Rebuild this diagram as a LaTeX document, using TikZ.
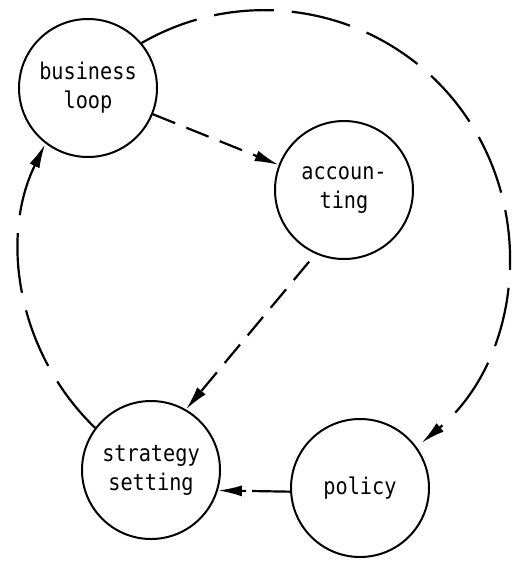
\documentclass[tikz,border=0pt]{standalone}
\usepackage{fontspec}
\newfontfamily\labelfont[FakeStretch=0.88]{DejaVu Sans Mono}
\usetikzlibrary{positioning,arrows.meta}
\tikzset{
  stage/.style={draw, circle, minimum size=69pt, inner sep=0pt, line width=1pt,
    align=center, font=\labelfont\fontsize{11.5pt}{14.5pt}\selectfont},
  ring/.style={line width=1.1pt, dash pattern=on 30pt off 9pt},
  link/.style={line width=1.1pt, dash pattern=on 12pt off 6pt},
  tip/.style={-{Latex[length=12pt,width=5.5pt]}}
}
\begin{document}
\begin{tikzpicture}[node distance=2cm, on grid]
\useasboundingbox (0,0) rectangle (259pt,-281.5pt);
\node[stage] (bl) at (44pt,-44pt) {business\\loop};
\node[stage] (acc) [below right=51pt and 128pt of bl] {accoun-\\ting};
\node[stage] (st) [below right=191pt and 31.5pt of bl] {strategy\\setting};
\node[stage] (pol) [below right=9pt and 104.5pt of st] {policy};
\draw[link, tip] (bl.-22) -- (acc.159);
\draw[link, tip, shorten <=5pt] (acc.-114) -- (st.60);
\draw[ring, tip] (bl.40) arc[start angle=120, end angle=-50, radius=122.5pt];
\draw[ring, tip, dash pattern=on 19pt off 3pt] (pol.183) -- (st.-17);
\draw[ring, tip] (st.143) arc[start angle=226, end angle=154, radius=122.5pt];
\end{tikzpicture}
\end{document}
